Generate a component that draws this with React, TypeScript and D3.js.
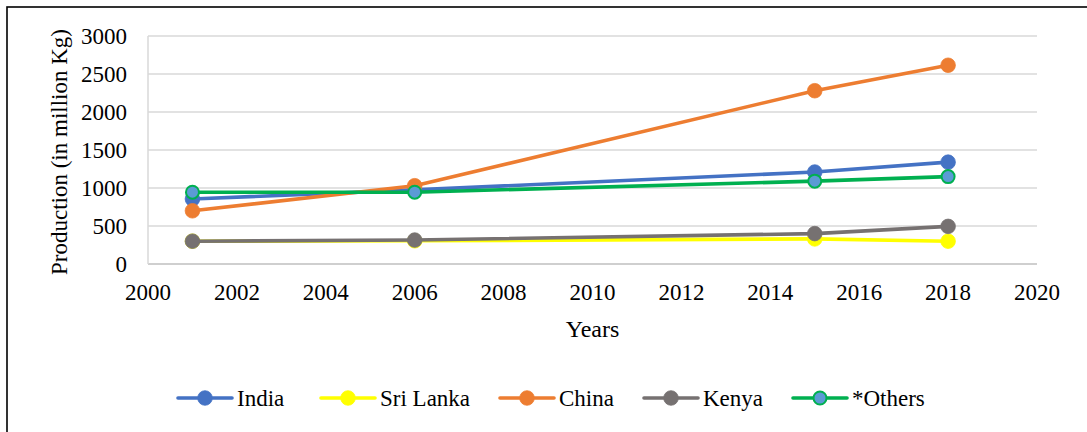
import React, { useEffect, useRef } from "react";
import * as d3 from "d3";

// Tea production by country, million kg
const years = [2001, 2006, 2015, 2018];
const seriesNames = ["India", "Sri Lanka", "China", "Kenya", "*Others"];
const india = [855, 975, 1210, 1340];
const sriLanka = [300, 305, 330, 300];
const china = [700, 1030, 2280, 2615];
const kenya = [300, 315, 400, 495];
const others = [945, 945, 1090, 1150];
const xTicks = [2000, 2002, 2004, 2006, 2008, 2010, 2012, 2014, 2016, 2018, 2020];
const yTicks = [0, 500, 1000, 1500, 2000, 2500, 3000];

const lineColors = ["#4472C4", "#FFFF00", "#ED7D31", "#767171", "#00B050"];
const markerFills = ["#4472C4", "#FFFF00", "#ED7D31", "#767171", "#5B9BD5"];
const markerStrokes = ["#4472C4", "#FFFF00", "#ED7D31", "#767171", "#00B050"];

// legend entry left edges (layout)
const legendStarts = [178, 321, 500, 644, 793];

const W = 1087;
const H = 432;
const FONT = "'Liberation Serif', 'Times New Roman', serif";

export default function App() {
  const ref = useRef<SVGSVGElement | null>(null);

  useEffect(() => {
    const svg = d3.select(ref.current);
    svg.selectAll("*").remove();

    const values = [india, sriLanka, china, kenya, others];
    const x = d3.scaleLinear().domain([2000, 2020]).range([148, 1037]);
    const y = d3.scaleLinear().domain([0, 3000]).range([264, 36]);

    svg.append("rect").attr("width", W).attr("height", H).attr("fill", "#fff");

    // outer frame
    svg
      .append("rect")
      .attr("x", 7)
      .attr("y", 7)
      .attr("width", W + 20)
      .attr("height", H + 20)
      .attr("fill", "none")
      .attr("stroke", "#000")
      .attr("stroke-width", 1.6);

    // gridlines
    svg
      .append("g")
      .selectAll("line")
      .data(yTicks.filter((t) => t > 0))
      .join("line")
      .attr("x1", x(2000))
      .attr("x2", x(2020))
      .attr("y1", (d) => y(d))
      .attr("y2", (d) => y(d))
      .attr("stroke", "#D9D9D9")
      .attr("stroke-width", 1.5);

    // axis lines
    svg
      .append("line")
      .attr("x1", x(2000))
      .attr("x2", x(2020))
      .attr("y1", y(0))
      .attr("y2", y(0))
      .attr("stroke", "#BFBFBF")
      .attr("stroke-width", 1.5);
    svg
      .append("line")
      .attr("x1", x(2000))
      .attr("x2", x(2000))
      .attr("y1", y(0))
      .attr("y2", y(3000))
      .attr("stroke", "#D9D9D9")
      .attr("stroke-width", 1.5);

    // tick labels
    svg
      .append("g")
      .selectAll("text")
      .data(yTicks)
      .join("text")
      .attr("x", 127)
      .attr("y", (d) => y(d))
      .attr("dy", "0.35em")
      .attr("text-anchor", "end")
      .attr("font-family", FONT)
      .attr("font-size", 23)
      .attr("fill", "#000")
      .text((d) => String(d));

    svg
      .append("g")
      .selectAll("text")
      .data(xTicks)
      .join("text")
      .attr("x", (d) => x(d))
      .attr("y", 300)
      .attr("text-anchor", "middle")
      .attr("font-family", FONT)
      .attr("font-size", 23)
      .attr("fill", "#000")
      .text((d) => String(d));

    // axis titles
    svg
      .append("text")
      .attr("transform", `translate(67,${(y(0) + y(3000)) / 2 + 2}) rotate(-90)`)
      .attr("text-anchor", "middle")
      .attr("font-family", FONT)
      .attr("font-size", 23)
      .attr("fill", "#000")
      .text("Production (in million Kg)");

    svg
      .append("text")
      .attr("x", (x(2000) + x(2020)) / 2)
      .attr("y", 337)
      .attr("text-anchor", "middle")
      .attr("font-family", FONT)
      .attr("font-size", 24)
      .attr("fill", "#000")
      .text("Years");

    // series
    const line = d3
      .line<number>()
      .x((_, i) => x(years[i]))
      .y((d) => y(d));

    values.forEach((vals, s) => {
      const g = svg.append("g");
      g.append("path")
        .attr("d", line(vals) as string)
        .attr("fill", "none")
        .attr("stroke", lineColors[s])
        .attr("stroke-width", 3.6)
        .attr("stroke-linejoin", "round")
        .attr("stroke-linecap", "round");
      g.selectAll("circle")
        .data(vals)
        .join("circle")
        .attr("cx", (_, i) => x(years[i]))
        .attr("cy", (d) => y(d))
        .attr("r", s === 4 ? 6.5 : 7.3)
        .attr("fill", markerFills[s])
        .attr("stroke", markerStrokes[s])
        .attr("stroke-width", s === 4 ? 2 : 0.8);
    });

    // legend
    const legendY = 398;
    const lineLen = 54;
    seriesNames.forEach((name, s) => {
      const left = legendStarts[s];
      const g = svg.append("g");
      g.append("line")
        .attr("x1", left)
        .attr("x2", left + lineLen)
        .attr("y1", legendY)
        .attr("y2", legendY)
        .attr("stroke", lineColors[s])
        .attr("stroke-width", 3.6)
        .attr("stroke-linecap", "round");
      g.append("circle")
        .attr("cx", left + lineLen / 2)
        .attr("cy", legendY)
        .attr("r", s === 4 ? 6.5 : 7.3)
        .attr("fill", markerFills[s])
        .attr("stroke", markerStrokes[s])
        .attr("stroke-width", s === 4 ? 2 : 0.8);
      g.append("text")
        .attr("x", left + lineLen + 5)
        .attr("y", legendY)
        .attr("dy", "0.35em")
        .attr("font-family", FONT)
        .attr("font-size", 23)
        .attr("fill", "#000")
        .text(name);
    });
  }, []);

  return (
    <svg
      ref={ref}
      width={W}
      height={H}
      style={{ position: "absolute", left: 0, top: 0, display: "block" }}
    />
  );
}
